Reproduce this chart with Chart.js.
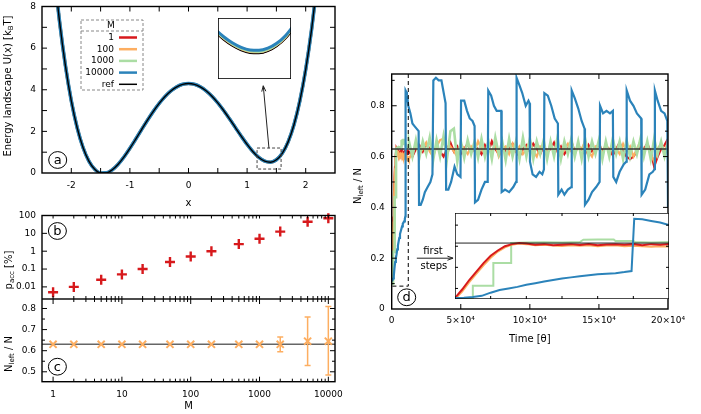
<!DOCTYPE html>
<html><head><meta charset="utf-8">
<script src="https://cdn.jsdelivr.net/npm/chart.js@4"></script>
<style>
html,body{margin:0;padding:0;background:#fff;}
#wrap{position:relative;width:701px;height:414px;overflow:hidden;background:#fff;font-family:'DejaVu Sans',sans-serif;}
#wrap canvas{position:absolute;}
.yt{position:absolute;white-space:nowrap;font-size:10px;line-height:10px;color:#000;transform:translate(-50%,-50%) rotate(-90deg);}
.yt sub{font-size:7px;vertical-align:-2px;line-height:0;}
</style></head><body>
<div id="wrap">
<canvas id="cA" width="350" height="212" style="left:0;top:0"></canvas>
<canvas id="cAi" width="73" height="61" style="left:218px;top:18px"></canvas>
<canvas id="cB" width="350" height="99" style="left:0;top:200px"></canvas>
<canvas id="cC" width="350" height="115" style="left:0;top:299px"></canvas>
<canvas id="cD" width="351" height="290" style="left:350px;top:60px"></canvas>
<canvas id="cDi" width="214" height="86" style="left:455px;top:213px"></canvas>
<div class="yt" style="left:8px;top:86px">Energy landscape U(x) [k<sub>B</sub>T]</div>
<div class="yt" style="left:9px;top:270px">p<sub>acc</sub> [%]</div>
<div class="yt" style="left:9px;top:354px">N<sub>left</sub> / N</div>
<div class="yt" style="left:358px;top:186px">N<sub>left</sub> / N</div>
</div>
<script>
// ---------------- data ----------------
// (a) energy landscape
const xGrid = [-2.3,-2.2,-2.1,-2.0,-1.9,-1.8,-1.7,-1.6,-1.5,-1.4,-1.3,-1.2,-1.1,-1.0,-0.9,-0.8,-0.7,-0.6,-0.5,-0.4,-0.3,-0.2,-0.1,0,0.1,0.2,0.3,0.4,0.5,0.6,0.7,0.8,0.9,1.0,1.1,1.2,1.3,1.4,1.5,1.6,1.7,1.8,1.9,2.0,2.1,2.2];
const uRef = [9.874,7.268,5.149,3.468,2.175,1.225,0.572,0.178,0.000,0.005,0.156,0.422,0.775,1.186,1.631,2.089,2.538,2.962,3.346,3.676,3.944,4.140,4.260,4.300,4.260,4.142,3.949,3.688,3.369,3.003,2.602,2.185,1.769,1.374,1.025,0.747,0.569,0.520,0.635,0.948,1.496,2.321,3.465,4.972,6.891,9.270];
const xInset = [1.15,1.2,1.25,1.3,1.35,1.4,1.45,1.5,1.55,1.6];
const uInsetRef = [0.876,0.747,0.644,0.569,0.526,0.520,0.555,0.635,0.764,0.948];
const uInsetM1 = [0.880,0.751,0.648,0.573,0.530,0.524,0.559,0.639,0.768,0.952];
const uInsetM100 = [0.890,0.761,0.658,0.583,0.540,0.534,0.569,0.649,0.778,0.962];
const uInsetM1000 = [0.900,0.771,0.668,0.593,0.550,0.544,0.579,0.659,0.788,0.972];
const uInsetM10000 = [0.926,0.797,0.694,0.619,0.576,0.570,0.605,0.685,0.814,0.998];
const legendLabels = ['1','100','1000','10000','ref'];
const aXTicks = [-2.5,-2,-1.5,-1,-0.5,0,0.5,1,1.5,2,2.5];
const aXLabels = ['','-2','','-1','','0','','1','','2',''];
const aYTicks = [0,1,2,3,4,5,6,7,8];
const aYLabels = ['0','','2','','4','','6','','8'];

// (b),(c)
const mValues = [1,2,5,10,20,50,100,200,500,1000,2000,5000,10000];
const pAccPercent = [0.005,0.01,0.025,0.05,0.1,0.25,0.5,1,2.5,5,12.5,45,70];
const nLeftMean = [0.63,0.63,0.63,0.63,0.63,0.63,0.63,0.63,0.63,0.63,0.63,0.645,0.645];
const nLeftErrLo = [null,null,null,null,null,null,null,null,null,null,0.595,0.53,0.485];
const nLeftErrHi = [null,null,null,null,null,null,null,null,null,null,0.665,0.76,0.81];
const nLeftRef = 0.63;
const mTicks = [1,2,3,4,5,6,7,8,9,10,20,30,40,50,60,70,80,90,100,200,300,400,500,600,700,800,900,1000,2000,3000,4000,5000,6000,7000,8000,9000,10000];
const mMajor = [1,10,100,1000,10000];
const mLabels = mTicks.map(v => mMajor.includes(v) ? String(v) : '');
const bYTicks = [0.01,0.1,1,10,100];
const bYLabels = ['0.01','0.1','1','10','100'];
const cYTicks = [0.5,0.55,0.6,0.65,0.7,0.75,0.8];
const cYLabels = ['0.5','','0.6','','0.7','','0.8'];

// (d) time series
const tFirst = [0,400,800,1200,1600,2000,2400,2800,3200,3600,4000,4500,5000,5500,6000,6500,7000,7500,8000,8500,9000,9500,10000,10500,11000,11500,12000];
const redFirst = [0.11,0.19,0.28,0.36,0.44,0.51,0.56,0.60,0.62,0.63,0.625,0.615,0.62,0.61,0.615,0.62,0.612,0.62,0.61,0.617,0.62,0.613,0.62,0.61,0.62,0.615,0.622];
const orangeFirst = [0.10,0.17,0.26,0.34,0.42,0.49,0.55,0.59,0.615,0.625,0.62,0.61,0.615,0.608,0.603,0.61,0.605,0.61,0.60,0.606,0.61,0.60,0.605,0.60,0.595,0.60,0.598];
const tGreenFirst = [0,1000,1000,2150,2150,3150,3150,4000,5000,6000,7000,7200,8000,8900,9000,10000,10100,11000,12000];
const greenFirst = [0.10,0.10,0.225,0.225,0.44,0.44,0.63,0.635,0.638,0.635,0.64,0.662,0.665,0.665,0.65,0.65,0.64,0.635,0.64];
const tBlueFirst = [0,500,1000,1500,2000,2500,3000,3500,4000,4500,5000,5500,6000,6500,7000,7500,8000,8500,9000,9500,9900,10050,10500,11000,11500,12000];
const blueFirst = [0.11,0.113,0.12,0.13,0.16,0.185,0.2,0.215,0.235,0.25,0.265,0.28,0.295,0.305,0.315,0.325,0.335,0.34,0.345,0.355,0.365,0.86,0.855,0.84,0.825,0.80];
const tLong = [12500,15000,17500,20000,22500,25000,27500,30000,32500,35000,37500,40000,42500,45000,47500,50000,52500,55000,57500,60000,62500,65000,67500,70000,72500,75000,77500,80000,82500,85000,87500,90000,92500,95000,97500,100000,102500,105000,107500,110000,112500,115000,117500,120000,122500,125000,127500,130000,132500,135000,137500,140000,142500,145000,147500,150000,152500,155000,157500,160000,162500,165000,167500,170000,172500,175000,177500,180000,182500,185000,187500,190000,192500,195000,197500,200000];
const redLong = [0.62,0.60,0.63,0.645,0.62,0.65,0.63,0.61,0.64,0.62,
 0.60,0.63,0.655,0.62,0.64,0.61,0.63,0.65,0.62,0.64,
 0.63,0.61,0.645,0.62,0.66,0.63,0.61,0.64,0.62,0.63,
 0.65,0.62,0.60,0.63,0.645,0.62,0.65,0.63,0.61,0.64,
 0.62,0.63,0.655,0.62,0.64,0.61,0.63,0.66,0.62,0.64,
 0.63,0.61,0.645,0.62,0.63,0.65,0.62,0.64,0.63,0.605,
 0.63,0.655,0.62,0.60,0.59,0.60,0.62,0.64,0.63,0.65,
 0.62,0.56,0.60,0.63,0.645,0.67];
const orangeLong = [0.59,0.62,0.64,0.61,0.63,0.655,0.62,0.60,0.64,0.665,
 0.67,0.61,0.64,0.62,0.60,0.65,0.63,0.61,0.64,0.62,
 0.66,0.63,0.61,0.64,0.62,0.65,0.60,0.63,0.64,0.61,
 0.65,0.62,0.64,0.61,0.63,0.66,0.62,0.60,0.64,0.63,
 0.61,0.65,0.62,0.64,0.60,0.63,0.65,0.62,0.61,0.64,
 0.63,0.66,0.62,0.60,0.64,0.63,0.61,0.65,0.62,0.64,
 0.63,0.61,0.65,0.62,0.64,0.60,0.63,0.66,0.62,0.64,
 0.61,0.58,0.63,0.65,0.62,0.66];
const greenLong = [0.66,0.60,0.665,0.595,0.66,0.61,0.675,0.585,0.665,0.60,
 0.68,0.59,0.70,0.71,0.58,0.66,0.595,0.665,0.61,0.66,
 0.595,0.67,0.60,0.66,0.59,0.675,0.61,0.66,0.585,0.67,
 0.60,0.66,0.59,0.675,0.60,0.67,0.59,0.66,0.61,0.665,
 0.59,0.66,0.60,0.675,0.59,0.66,0.61,0.67,0.60,0.66,
 0.59,0.67,0.60,0.66,0.61,0.665,0.59,0.66,0.60,0.67,
 0.61,0.66,0.59,0.665,0.60,0.66,0.61,0.67,0.60,0.66,
 0.59,0.67,0.61,0.66,0.60,0.65];
const tBlueLong = [13500,15000,16500,18000,19500,19800,21000,22500,24000,26000,28000,29500,30150,32000,34000,36000,37000,38000,39000,39400,41000,43000,45500,47500,49800,50200,52500,54500,56500,58500,60000,60300,62500,65000,67500,69500,69900,72000,74000,76000,78000,79300,79600,82000,85000,88000,90000,90400,92500,94500,97000,99000,99800,100100,102000,104500,107000,109000,110200,110500,113000,115500,118000,120300,120600,123000,125000,127500,130000,130300,132500,135000,137500,139600,139900,142500,145000,148000,150500,150800,153000,155500,158000,160100,160400,162500,165000,168000,169800,170100,172500,175000,177500,180600,180900,183500,186500,189000,190200,190500,192500,195000,197500,199500,200000];
const blueLong = [0.77,0.73,0.72,0.71,0.70,0.41,0.41,0.43,0.46,0.48,0.50,0.53,0.90,0.91,0.90,0.90,0.87,0.84,0.81,0.47,0.47,0.50,0.56,0.53,0.52,0.82,0.82,0.78,0.75,0.74,0.72,0.42,0.43,0.47,0.50,0.50,0.86,0.84,0.80,0.78,0.78,0.78,0.46,0.47,0.46,0.48,0.50,0.91,0.88,0.85,0.80,0.82,0.81,0.58,0.53,0.52,0.54,0.53,0.55,0.85,0.84,0.80,0.75,0.73,0.45,0.47,0.45,0.47,0.48,0.86,0.83,0.79,0.74,0.71,0.41,0.43,0.46,0.48,0.50,0.80,0.77,0.78,0.77,0.78,0.52,0.50,0.54,0.57,0.58,0.86,0.82,0.80,0.77,0.75,0.45,0.47,0.53,0.54,0.55,0.86,0.82,0.78,0.77,0.74,0.40];
const dXTicks = [0,50000,100000,150000,200000];
const dXLabels = ['0','5\u00d710\u2074','10\u00d710\u2074','15\u00d710\u2074','20\u00d710\u2074'];
const dYTicks = [0,0.1,0.2,0.3,0.4,0.5,0.6,0.7,0.8,0.9];
const dYLabels = ['0','','0.2','','0.4','','0.6','','0.8',''];
const diXTicks = [2000,4000,6000,8000,10000];
const diYTicks = [0.2,0.4,0.6,0.8];

// ---------------- helpers ----------------
const COL = {red:'#d7191c', orange:'#fdae61', green:'#abdda4', blue:'#2b83ba', ref:'#000'};
Chart.defaults.font.family = "'DejaVu Sans', sans-serif";
Chart.defaults.font.size = 9;
Chart.defaults.color = '#000';

function pts(xs, ys){ return xs.map((x,i)=>({x:x, y:ys[i]})); }
function zeroPad(s){ s.paddingTop=0; s.paddingBottom=0; s.paddingLeft=0; s.paddingRight=0; }
function axis(o){
  return {
    type: o.type || 'linear', min:o.min, max:o.max, display:true,
    afterBuildTicks: s => { s.ticks = o.ticks.map(v => ({value:v})); },
    afterFit: s => { if (s.isHorizontal()) s.height = o.size; else s.width = o.size; zeroPad(s); },
    grid:{display:false, drawTicks:false, tickLength:0}, border:{display:false},
    ticks:{display: !!o.labels, padding: o.pad || 6, autoSkip:false, maxRotation:0, minRotation:0,
      callback: (v,i) => o.labels ? o.labels[i] : ''},
    title: o.title ? {display:true, text:o.title, padding:{top:0,bottom:o.tpad||0}, font:{size:10}} : {display:false}
  };
}
function lineDS(label, data, color, width, extra){
  return Object.assign({label:label, data:data, showLine:true, pointRadius:0, borderColor:color, backgroundColor:color, borderWidth:width, fill:false}, extra||{});
}
function base(pad){
  return {responsive:false, maintainAspectRatio:false, animation:false, events:[],
    layout:{padding:pad, autoPadding:false}, plugins:{legend:{display:false}, tooltip:{enabled:false}}};
}
function framePlugin(cfg){
  return {id:'frame', afterDatasetsDraw(chart){
    const ctx = chart.ctx, a = chart.chartArea;
    ctx.save();
    ctx.strokeStyle = '#000'; ctx.lineWidth = 1;
    if (cfg.ticks) {
      const xs = chart.scales.x, ys = chart.scales.y;
      ctx.beginPath();
      xs.ticks.forEach(t => {
        const p = xs.getPixelForValue(t.value);
        if (p < a.left + 1 || p > a.right - 1) return;
        const L = t.label ? cfg.major : cfg.minor;
        ctx.moveTo(p, a.bottom); ctx.lineTo(p, a.bottom - L);
        ctx.moveTo(p, a.top); ctx.lineTo(p, a.top + L);
      });
      ys.ticks.forEach(t => {
        const p = ys.getPixelForValue(t.value);
        if (p < a.top + 1 || p > a.bottom - 1) return;
        const L = t.label ? cfg.major : cfg.minor;
        ctx.moveTo(a.left, p); ctx.lineTo(a.left + L, p);
        ctx.moveTo(a.right, p); ctx.lineTo(a.right - L, p);
      });
      ctx.stroke();
    }
    ctx.lineWidth = cfg.border || 1.4;
    ctx.strokeRect(a.left, a.top, a.right - a.left, a.bottom - a.top);
    ctx.restore();
  }};
}
const whiteBg = {id:'whiteBg', beforeDraw(chart){ const c=chart.ctx; c.save(); c.fillStyle='#fff'; c.fillRect(0,0,chart.width,chart.height); c.restore(); }};
function circleLabel(ctx, x, y, letter){
  ctx.save(); ctx.beginPath(); ctx.ellipse(x, y, 9, 8.4, 0, 0, 2*Math.PI);
  ctx.lineWidth = 1; ctx.strokeStyle = '#000'; ctx.stroke();
  ctx.font = "13px 'DejaVu Sans', sans-serif"; ctx.textAlign='center'; ctx.textBaseline='middle'; ctx.fillStyle='#000';
  ctx.fillText(letter, x, y + 0.5); ctx.restore();
}
function arrow(ctx, x1, y1, x2, y2, head){
  const ang = Math.atan2(y2-y1, x2-x1);
  ctx.beginPath(); ctx.moveTo(x1,y1); ctx.lineTo(x2,y2);
  ctx.moveTo(x2,y2); ctx.lineTo(x2 - head*Math.cos(ang-0.35), y2 - head*Math.sin(ang-0.35));
  ctx.moveTo(x2,y2); ctx.lineTo(x2 - head*Math.cos(ang+0.35), y2 - head*Math.sin(ang+0.35));
  ctx.stroke();
}

// ---------------- (a) ----------------
const legendColors = {'1':COL.red,'100':COL.orange,'1000':COL.green,'10000':COL.blue,'ref':COL.ref};
const decA = {id:'decA', afterDatasetsDraw(chart){
  const ctx = chart.ctx, a = chart.chartArea, xs = chart.scales.x, ys = chart.scales.y;
  ctx.save();
  ctx.strokeStyle = '#444'; ctx.lineWidth = 1; ctx.setLineDash([3,2]);
  const bx1 = xs.getPixelForValue(1.17), bx2 = xs.getPixelForValue(1.58), by1 = ys.getPixelForValue(1.2), by2 = ys.getPixelForValue(0.19);
  ctx.strokeRect(bx1, by1, bx2-bx1, by2-by1);
  ctx.setLineDash([]);
  ctx.strokeStyle = '#222';
  arrow(ctx, xs.getPixelForValue(1.373), ys.getPixelForValue(1.19), xs.getPixelForValue(1.276), ys.getPixelForValue(4.19), 6);
  const lx = a.left + 39, ly = a.top + 13.5;
  ctx.strokeStyle = '#888'; ctx.setLineDash([3,2]); ctx.lineWidth = 1;
  ctx.strokeRect(lx, ly, 62, 70);
  ctx.beginPath(); ctx.moveTo(lx, ly + 11); ctx.lineTo(lx + 62, ly + 11); ctx.stroke();
  ctx.setLineDash([]);
  ctx.fillStyle = '#000'; ctx.font = "9px 'DejaVu Sans', sans-serif"; ctx.textBaseline = 'middle';
  ctx.textAlign = 'center'; ctx.fillText('M', lx + 30, ly + 5.5);
  ctx.textAlign = 'right';
  legendLabels.forEach((lab, i) => {
    const y = ly + 17.5 + i * 11.7;
    ctx.fillText(lab, lx + 33, y);
    ctx.strokeStyle = legendColors[lab]; ctx.lineWidth = lab === 'ref' ? 1.5 : 2.5;
    ctx.beginPath(); ctx.moveTo(lx + 38, y); ctx.lineTo(lx + 56, y); ctx.stroke();
  });
  ctx.restore();
  circleLabel(ctx, a.left + 15.7, a.bottom - 13, 'a');
}};
new Chart(document.getElementById('cA'), {
  type:'scatter',
  data:{datasets:[
    lineDS('ref', pts(xGrid,uRef), COL.ref, 1.4, {cubicInterpolationMode:'monotone'}),
    lineDS('10000', pts(xGrid,uRef), COL.blue, 3.6, {cubicInterpolationMode:'monotone'}),
    lineDS('1000', pts(xGrid,uRef), COL.green, 3, {cubicInterpolationMode:'monotone'}),
    lineDS('100', pts(xGrid,uRef), COL.orange, 3, {cubicInterpolationMode:'monotone'}),
    lineDS('1', pts(xGrid,uRef), COL.red, 3, {cubicInterpolationMode:'monotone'})
  ]},
  options: Object.assign(base({top:6.5,right:15,bottom:0,left:0}), {scales:{
    x: axis({min:-2.5, max:2.5, ticks:aXTicks, labels:aXLabels, size:39, pad:7, title:'x', tpad:3}),
    y: axis({min:0, max:8, ticks:aYTicks, labels:aYLabels, size:42, pad:6})
  }}),
  plugins:[framePlugin({ticks:true, major:5, minor:5, border:1.4}), decA]
});
new Chart(document.getElementById('cAi'), {
  type:'scatter',
  data:{datasets:[
    lineDS('10000', pts(xInset,uInsetM10000), COL.blue, 3, {cubicInterpolationMode:'monotone'}),
    lineDS('1000', pts(xInset,uInsetM1000), COL.green, 2, {cubicInterpolationMode:'monotone'}),
    lineDS('100', pts(xInset,uInsetM100), COL.orange, 1.5, {cubicInterpolationMode:'monotone'}),
    lineDS('ref', pts(xInset,uInsetRef), COL.ref, 1.8, {cubicInterpolationMode:'monotone'}),
    lineDS('1', pts(xInset,uInsetM1), COL.red, 1.5, {cubicInterpolationMode:'monotone'})
  ]},
  options: Object.assign(base({top:0,right:0,bottom:0,left:0}), {scales:{
    x: axis({min:1.17, max:1.58, ticks:[], size:0}),
    y: axis({min:0.1, max:1.1, ticks:[], size:0})
  }}),
  plugins:[whiteBg, framePlugin({ticks:false, border:1.6})]
});

// ---------------- (b) ----------------
new Chart(document.getElementById('cB'), {
  type:'scatter',
  data:{datasets:[{label:'p_acc', data:pts(mValues,pAccPercent), pointStyle:'cross', pointRadius:5, borderWidth:2.4, borderColor:COL.red, backgroundColor:COL.red, clip:false}]},
  options: Object.assign(base({top:15.5,right:15,bottom:0,left:0}), {scales:{
    x: axis({type:'logarithmic', min:0.69, max:12500, ticks:mTicks, size:0}),
    y: axis({type:'logarithmic', min:0.0021, max:100, ticks:bYTicks, labels:bYLabels, size:42, pad:6})
  }}),
  plugins:[framePlugin({ticks:true, major:5, minor:3, border:1.4}),
    {id:'decB', afterDatasetsDraw(chart){ circleLabel(chart.ctx, chart.chartArea.left + 15.4, chart.chartArea.top + 15.5, 'b'); }}]
});

// ---------------- (c) ----------------
const errPlugin = {id:'errbars', afterDatasetsDraw(chart){
  const ctx = chart.ctx, xs = chart.scales.x, ys = chart.scales.y;
  ctx.save(); ctx.strokeStyle = COL.orange; ctx.lineWidth = 1.5;
  mValues.forEach((m,i) => {
    const lo = nLeftErrLo[i], hi = nLeftErrHi[i];
    if (lo == null) return;
    const px = xs.getPixelForValue(m), y1 = ys.getPixelForValue(lo), y2 = ys.getPixelForValue(hi);
    ctx.beginPath();
    ctx.moveTo(px, y1); ctx.lineTo(px, y2);
    ctx.moveTo(px-3, y1); ctx.lineTo(px+3, y1);
    ctx.moveTo(px-3, y2); ctx.lineTo(px+3, y2);
    ctx.stroke();
  });
  ctx.restore();
  circleLabel(ctx, chart.chartArea.left + 15.4, chart.chartArea.bottom - 15, 'c');
}};
new Chart(document.getElementById('cC'), {
  type:'scatter',
  data:{datasets:[
    {label:'N_left/N', data:pts(mValues,nLeftMean), pointStyle:'crossRot', pointRadius:5, borderWidth:2, borderColor:COL.orange, backgroundColor:COL.orange, clip:false},
    lineDS('ref', [{x:0.69,y:nLeftRef},{x:12500,y:nLeftRef}], '#666', 1.5)
  ]},
  options: Object.assign(base({top:0,right:15,bottom:0,left:0}), {scales:{
    x: axis({type:'logarithmic', min:0.69, max:12500, ticks:mTicks, labels:mLabels, size:32.3, pad:8, title:'M', tpad:2}),
    y: axis({min:0.453, max:0.845, ticks:cYTicks, labels:cYLabels, size:42, pad:6})
  }}),
  plugins:[framePlugin({ticks:true, major:5, minor:3, border:1.4}), errPlugin]
});

// ---------------- (d) ----------------
const decD = {id:'decD', afterDatasetsDraw(chart){
  const ctx = chart.ctx, a = chart.chartArea, xs = chart.scales.x, ys = chart.scales.y;
  ctx.save();
  ctx.strokeStyle = '#000'; ctx.lineWidth = 1; ctx.setLineDash([4,3]);
  const xb = xs.getPixelForValue(12000), yb = ys.getPixelForValue(0.09);
  ctx.beginPath(); ctx.moveTo(xb, a.top); ctx.lineTo(xb, yb); ctx.lineTo(xs.getPixelForValue(0), yb); ctx.stroke();
  ctx.setLineDash([]);
  ctx.fillStyle = '#000'; ctx.font = "10px 'DejaVu Sans', sans-serif"; ctx.textAlign = 'center'; ctx.textBaseline = 'middle';
  ctx.fillText('first', xs.getPixelForValue(29900), ys.getPixelForValue(0.226));
  ctx.fillText('steps', xs.getPixelForValue(30500), ys.getPixelForValue(0.167));
  ctx.strokeStyle = '#222';
  arrow(ctx, xs.getPixelForValue(18200), ys.getPixelForValue(0.2), xs.getPixelForValue(44400), ys.getPixelForValue(0.2), 6);
  ctx.restore();
  circleLabel(ctx, a.left + 15, a.bottom - 11.7, 'd');
}};
const refLine = [{x:0,y:nLeftRef},{x:200000,y:nLeftRef}];
new Chart(document.getElementById('cD'), {
  type:'scatter',
  data:{datasets:[
    lineDS('10000', pts(tBlueFirst.concat(tBlueLong), blueFirst.concat(blueLong)), COL.blue, 2.2),
    lineDS('ref', refLine, '#333', 1.4),
    lineDS('1000', pts(tGreenFirst.concat(tLong), greenFirst.concat(greenLong)), COL.green, 2.6),
    lineDS('100', pts(tFirst.concat(tLong), orangeFirst.concat(orangeLong)), COL.orange, 2.2),
    lineDS('1', pts(tFirst.concat(tLong), redFirst.concat(redLong)), COL.red, 2.2)
  ]},
  options: Object.assign(base({top:14,right:33,bottom:0,left:0}), {scales:{
    x: axis({min:0, max:200000, ticks:dXTicks, labels:dXLabels, size:41, pad:6, title:'Time [\u03b8]', tpad:5}),
    y: axis({min:0, max:0.925, ticks:dYTicks, labels:dYLabels, size:41.7, pad:7})
  }}),
  plugins:[framePlugin({ticks:true, major:5, minor:3, border:1.4}), decD]
});
new Chart(document.getElementById('cDi'), {
  type:'scatter',
  data:{datasets:[
    lineDS('10000', pts(tBlueFirst, blueFirst), COL.blue, 2),
    lineDS('ref', [{x:0,y:nLeftRef},{x:12000,y:nLeftRef}], '#222', 1),
    lineDS('1', pts(tFirst, redFirst), COL.red, 2),
    lineDS('100', pts(tFirst, orangeFirst), COL.orange, 2),
    lineDS('1000', pts(tGreenFirst, greenFirst), COL.green, 2)
  ]},
  options: Object.assign(base({top:0,right:0,bottom:0,left:0}), {scales:{
    x: axis({min:0, max:12000, ticks:diXTicks, size:0}),
    y: axis({min:0.1, max:0.915, ticks:diYTicks, size:0})
  }}),
  plugins:[whiteBg, framePlugin({ticks:true, major:3, minor:3, border:1.4})]
});
</script>
</body></html>
